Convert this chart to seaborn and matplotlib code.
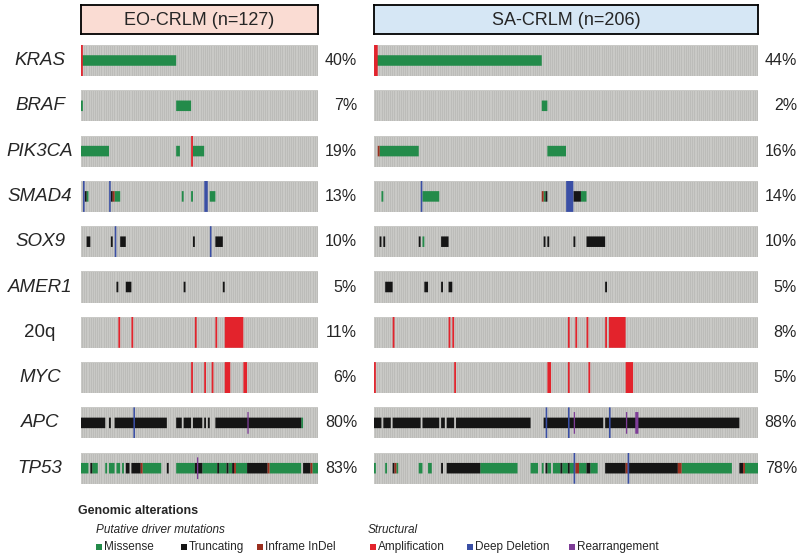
import numpy as np
import matplotlib
matplotlib.use("Agg")
import matplotlib.pyplot as plt
from matplotlib.colors import ListedColormap
import seaborn as sns

# ---------------- data ----------------
GENES = ["KRAS", "BRAF", "PIK3CA", "SMAD4", "SOX9", "AMER1", "20q", "MYC", "APC", "TP53"]
ITALIC = [True, True, True, True, True, True, False, True, True, True]
COHORTS = ["EO-CRLM (n=127)", "SA-CRLM (n=206)"]
N_SAMPLES = [127, 206]
EO_PCT = ["40%", "7%", "19%", "13%", "10%", "5%", "11%", "6%", "80%", "83%"]
SA_PCT = ["44%", "2%", "16%", "14%", "10%", "5%", "8%", "5%", "88%", "78%"]

# sample indices (sorted oncoprint order) per alteration type
EO_MISSENSE = {
    "KRAS": "0-50",
    "BRAF": "0,51-58",
    "PIK3CA": "0-14,51-52,60-65",
    "SMAD4": "3,18-20,54,59,69-71",
    "APC": "118",
    "TP53": "0-3,6-8,13,15-17,19-20,22,33-42,51-60,65-72,74-77,79-80,83-88,101-117,124-126",
}
EO_TRUNC = {
    "SMAD4": "2,16",
    "SOX9": "3-4,16,21-23,60,72-75",
    "AMER1": "19,24-26,55,76",
    "APC": "0-12,15,18-45,51-53,55-58,60-64,66,68,72-117",
    "TP53": "5,24-25,27-31,46,61-64,73,78,81,89-99,119-122",
}
EO_INFRAME = {"SMAD4": "17", "TP53": "32,82,100,123"}
EO_AMP = {"KRAS": "0", "PIK3CA": "59", "20q": "20,27,61,72,77-86",
          "MYC": "59,66,70,77-79,87-88"}
EO_DEL = {"SMAD4": "1,15,66-67", "SOX9": "18,69", "APC": "28"}
EO_REARR = {"APC": "89", "TP53": "62"}

SA_MISSENSE = {
    "KRAS": "0-89",
    "BRAF": "90-92",
    "PIK3CA": "3-23,93-102",
    "SMAD4": "4,26-34,91,111-113",
    "SOX9": "26",
    "TP53": "0,6,12,24-25,29-30,57-76,84-87,90,93-94,96-99,101-103,105-107,110-113,"
            "116-119,165-191,199-205",
}
SA_TRUNC = {
    "SMAD4": "92,107-110",
    "SOX9": "3,5,24,36-39,91,93,107,114-123",
    "AMER1": "6-9,27-28,36,40-41,124",
    "APC": "0-3,5-8,10-24,26-34,36-37,39-42,44-83,91-122,124-195",
    "TP53": "10,36,39-56,92,100,104,114-115,124-128,129-134,136-162,196-197",
}
SA_INFRAME = {"PIK3CA": "2", "SMAD4": "90", "TP53": "11,108-109,135,163-164,198"}
SA_AMP = {"KRAS": "0-1", "20q": "10,40,42,104,108,114,124,126-134",
          "MYC": "0,43,93-94,104,115,135-138"}
SA_DEL = {"SMAD4": "25,103-106", "APC": "92,104,126", "TP53": "107,136"}
SA_REARR = {"APC": "107,135,140-141"}

COLORS = {
    "missense": "#238b4a",
    "trunc": "#151515",
    "inframe": "#9b2f1f",
    "amp": "#e3232c",
    "del": "#3a4fa5",
    "rearr": "#7e3d97",
}
GRAY = "#bcbcb9"
STRIPE = "#c9c9c6"


def parse_runs(s):
    """'0-5,8' -> [(0, 6), (8, 1)] as (start, length) runs of samples."""
    idx = []
    for part in s.split(","):
        part = part.strip()
        if not part:
            continue
        if "-" in part:
            a, b = part.split("-")
            idx.extend(range(int(a), int(b) + 1))
        else:
            idx.append(int(part))
    idx = sorted(set(idx))
    runs = []
    for v in idx:
        if runs and runs[-1][0] + runs[-1][1] == v:
            runs[-1][1] += 1
        else:
            runs.append([v, 1])
    return runs


# ---------------- figure ----------------
sns.set_theme(style="white")
plt.rcParams["font.family"] = ["Liberation Sans", "DejaVu Sans"]

W, H = 800, 560
fig = plt.figure(figsize=(8, 5.6), dpi=100)
fig.patch.set_facecolor("white")

PANEL_X = [(81, 318), (374, 758)]
ROW_TOP0, ROW_PITCH, ROW_H = 45.0, 45.3, 31.0
HEADER_FILL = ["#fadcd3", "#d6e7f5"]
PCT_X = [357, 797]

cohort_data = [
    (EO_MISSENSE, EO_TRUNC, EO_INFRAME, EO_AMP, EO_DEL, EO_REARR, EO_PCT),
    (SA_MISSENSE, SA_TRUNC, SA_INFRAME, SA_AMP, SA_DEL, SA_REARR, SA_PCT),
]


def fax(x0, top, w, h):
    return fig.add_axes([x0 / W, 1 - (top + h) / H, w / W, h / H])


def draw_runs(ax, spec, height, bottom, inset, color, z):
    runs = parse_runs(spec)
    if not runs:
        return
    xs = np.array([r[0] for r in runs], dtype=float)
    ws = np.array([r[1] for r in runs], dtype=float)
    bars = ax.bar(xs + inset / 2, height, bottom=bottom, width=ws - inset, align="edge",
                  color=color, linewidth=0, zorder=z)
    for b in bars:
        b.set_snap(False)


for c, (x0, x1) in enumerate(PANEL_X):
    n = N_SAMPLES[c]
    mis, trn, inf, amp, dele, rea, pct = cohort_data[c]

    # header box
    hax = fax(x0, 5, x1 - x0, 29)
    hax.set_facecolor(HEADER_FILL[c])
    hax.set_xticks([]); hax.set_yticks([])
    for s in hax.spines.values():
        s.set_visible(True); s.set_color("black"); s.set_linewidth(1.3)
    hax.text(0.5, 0.45, COHORTS[c], ha="center", va="center", fontsize=13,
             transform=hax.transAxes)

    for i, g in enumerate(GENES):
        top = ROW_TOP0 + i * ROW_PITCH
        ax = fax(x0, top, x1 - x0, ROW_H)
        sns.heatmap(np.zeros((1, n)), cmap=ListedColormap([GRAY]), cbar=False,
                    linewidths=0.4, linecolor=STRIPE, ax=ax,
                    xticklabels=False, yticklabels=False)
        ax.set_xlim(0, n)
        ax.set_ylim(1, 0)

        # mutations (inner bar)
        for d, key in ((mis, "missense"), (trn, "trunc"), (inf, "inframe")):
            if g in d:
                draw_runs(ax, d[g], 0.34, 0.33, 0.0, COLORS[key], 3)
        # copy number (full height)
        if g in amp:
            draw_runs(ax, amp[g], 1.0, 0.0, 0.05, COLORS["amp"], 4)
        if g in dele:
            draw_runs(ax, dele[g], 1.0, 0.0, 0.15, COLORS["del"], 4)
        if g in rea:
            draw_runs(ax, rea[g], 0.7, 0.15, 0.3, COLORS["rearr"], 5)

        yc = 1 - (top + ROW_H / 2) / H
        if c == 0:
            fig.text(40 / W, yc, g, ha="center", va="center", fontsize=13.5,
                     style="italic" if ITALIC[i] else "normal")
        fig.text(PCT_X[c] / W, yc, pct[i], ha="right", va="center", fontsize=11.5)

# ---------------- legend ----------------
lax = fig.add_axes([0, 0, 1, 1], zorder=-1)
lax.set_xlim(0, W); lax.set_ylim(H, 0); lax.axis("off")
lax.text(78, 511, "Genomic alterations", fontsize=9, fontweight="bold", va="center", ha="left")
lax.text(96, 530, "Putative driver mutations", fontsize=8.5, style="italic", va="center", ha="left")
lax.text(368, 530, "Structural", fontsize=8.5, style="italic", va="center", ha="left")

LEGEND_LABELS = ["Missense", "Truncating", "Inframe InDel", "Amplification", "Deep Deletion", "Rearrangement"]
LEGEND_KEYS = ["missense", "trunc", "inframe", "amp", "del", "rearr"]
LEGEND_X = [96, 181, 257, 370, 467, 569]
for lab, key, lx in zip(LEGEND_LABELS, LEGEND_KEYS, LEGEND_X):
    lax.scatter([lx + 2.5], [547], marker="s", s=14, color=COLORS[key], linewidths=0)
    lax.text(lx + 8, 547, lab, fontsize=8.5, va="center", ha="left")

fig.savefig("out.png", dpi=100, facecolor="white")
